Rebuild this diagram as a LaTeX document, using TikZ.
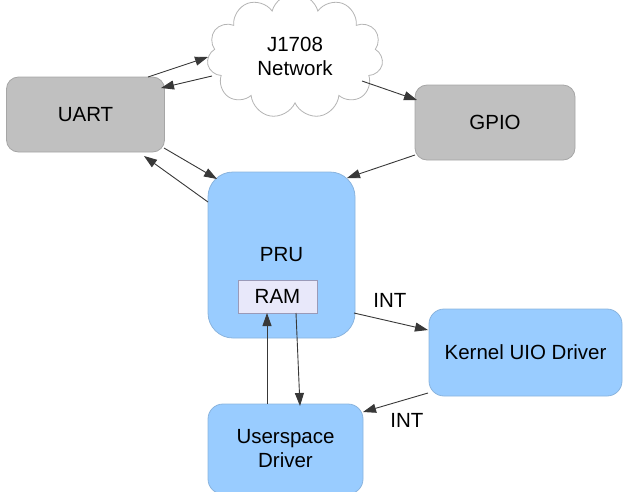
\documentclass[tikz,border=0pt]{standalone}
\usepackage{fontspec}
\setmainfont{Liberation Sans}
\usetikzlibrary{arrows.meta,shapes.symbols,calc}
\definecolor{grayfill}{HTML}{C0C0C0}
\definecolor{graydraw}{HTML}{A6A6A6}
\definecolor{bluefill}{HTML}{99CCFF}
\definecolor{bluedraw}{HTML}{8AB4DE}
\definecolor{ramfill}{HTML}{E8E8FA}
\definecolor{ramdraw}{HTML}{9A9AB8}
\definecolor{linecol}{HTML}{383838}
\definecolor{cloudline}{HTML}{B4B4B4}
\begin{document}
\begin{tikzpicture}[x=1pt,y=-1pt, font=\fontsize{20.5}{24}\selectfont,
 graybox/.style={draw=graydraw, fill=grayfill, rounded corners=12pt, line width=0.8pt, inner sep=0pt},
 bluebox/.style={draw=bluedraw, fill=bluefill, rounded corners=15pt, line width=0.8pt, inner sep=0pt, align=center},
 rambox/.style={draw=ramdraw, fill=ramfill, line width=0.8pt, inner sep=0pt},
 netcloud/.style={cloud, cloud puffs=11, draw=cloudline, fill=white, line width=0.8pt, align=center, inner sep=0pt},
 arr/.style={draw=linecol, line width=0.9pt, -{Triangle[length=13pt,width=9pt]}},
 lbl/.style={inner sep=0pt},
]
\useasboundingbox (0,0) rectangle (623,491);
\node[netcloud, minimum width=176pt, minimum height=104pt] (net) at (295,56) {J1708\\Network};
\node[graybox, minimum width=158pt, minimum height=75pt] (uart) at (85.5,114.5) {UART};
\node[graybox, minimum width=160pt, minimum height=75pt] (gpio) at (495,122.5) {GPIO};
\node[bluebox, rounded corners=25pt, minimum width=147pt, minimum height=166pt] (pru) at (281.5,255) {PRU};
\node[rambox, minimum width=79pt, minimum height=33pt] (ram) at (277.5,296.5) {RAM};
\node[bluebox, minimum width=193pt, minimum height=87pt] (kern) at (525.5,352.5) {Kernel UIO Driver};
\node[bluebox, minimum width=155pt, minimum height=90pt] (user) at (285.5,449) {Userspace\\Driver};
\node[lbl] (int1) at (390,300) {INT};
\node[lbl] (int2) at (407,420) {INT};
\draw[arr] ($(uart.center)+(62.5,-37.5)$) -- ($(net.center)+(-87,1)$);
\draw[arr] ($(net.center)+(-83,20)$) -- ($(uart.center)+(75.5,-26.5)$);
\draw[arr] ($(net.center)+(67,25)$) -- ($(gpio.center)+(-78,-22.5)$);
\draw[arr] ($(uart.center)+(78.5,33.5)$) -- ($(pru.center)+(-64.5,-76)$);
\draw[arr] ($(pru.center)+(-73.5,-53)$) -- ($(uart.center)+(58.5,41.5)$);
\draw[arr] ($(gpio.center)+(-80,32.5)$) -- ($(pru.center)+(65.5,-77)$);
\draw[arr] ($(pru.center)+(72.5,58)$) -- ($(kern.center)+(-97.5,-22.5)$);
\draw[arr] ($(kern.center)+(-97.5,40.5)$) -- ($(user.center)+(77.5,-37)$);
\draw[arr] ($(user.center)+(-18.5,-45)$) -- ($(ram.center)+(-10.5,16.5)$);
\draw[arr] ($(ram.center)+(18.5,16.5)$) -- ($(user.center)+(14.5,-43)$);
\end{tikzpicture}
\end{document}
